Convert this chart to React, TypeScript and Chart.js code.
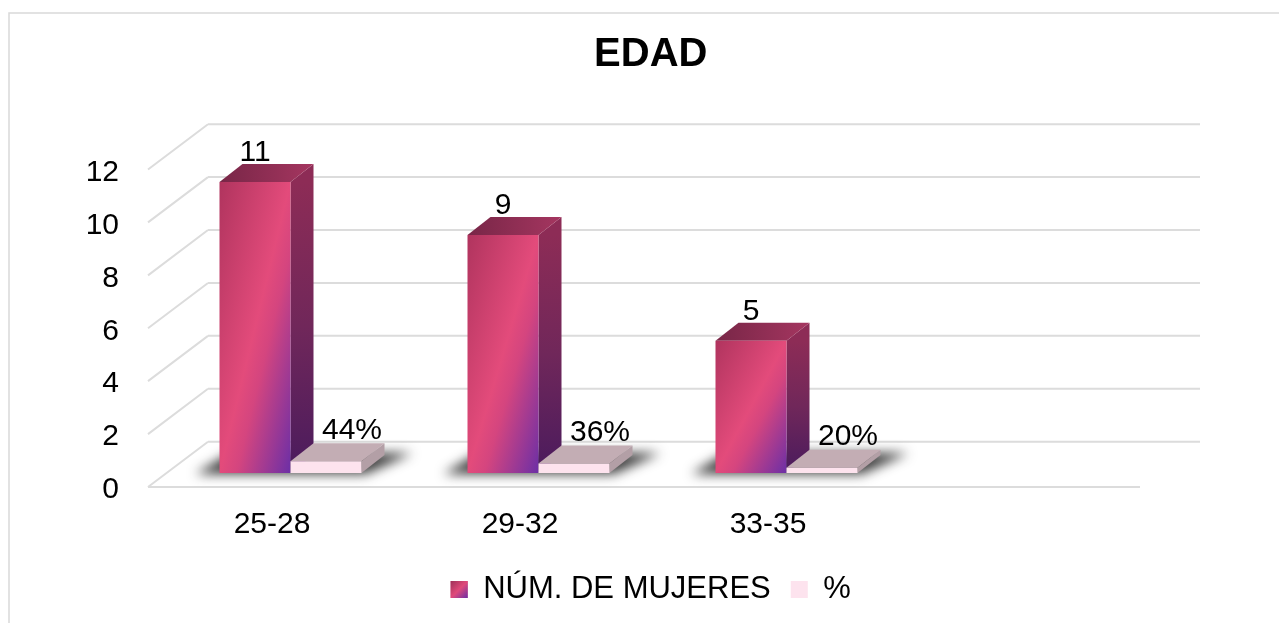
import React, { useEffect, useRef } from 'react';
import { Chart, registerables } from 'chart.js';

Chart.register(...registerables);

// ---- data ----
const categories = ['25-28', '29-32', '33-35', ''];
const mujeres: (number | null)[] = [11, 9, 5, null];
const porcentaje: (number | null)[] = [0.44, 0.36, 0.2, null];
const seriesNames = ['NÚM. DE MUJERES', '%'];
const titleText = 'EDAD';
const yMin = 0;
const yMax = 12;
const yStep = 2;

const FONT = "'Liberation Sans', Arial, Helvetica, sans-serif";

// ---- 3D geometry (offsets relative to bar plane) ----
const FRONT_DX = -18.5;
const FRONT_DY = 14;
const BACK_DX = 41.5;
const BACK_DY = -31.3;
const BAR_DX = 23;
const BAR_DY = -18;
const GRID = '#dcdcdc';

function poly(ctx: CanvasRenderingContext2D, pts: number[][], fill: string | CanvasGradient) {
  ctx.beginPath();
  ctx.moveTo(pts[0][0], pts[0][1]);
  for (let i = 1; i < pts.length; i++) ctx.lineTo(pts[i][0], pts[i][1]);
  ctx.closePath();
  ctx.fillStyle = fill;
  ctx.fill();
}

function drawBar(ctx: CanvasRenderingContext2D, el: any, kind: number) {
  const w = el.width;
  const L = el.x - w / 2;
  const R = el.x + w / 2;
  const top = el.y;
  const base = el.base;
  const h = base - top;
  let front: string | CanvasGradient;
  let side: string | CanvasGradient;
  let topF: string | CanvasGradient;
  if (kind === 0) {
    const s = (2 * w * h) / (h * h + w * w);
    const g = ctx.createLinearGradient(L, top, L + h * s, top + w * s);
    g.addColorStop(0, '#b0345e');
    g.addColorStop(0.5, '#e34b7b');
    g.addColorStop(0.62, '#d4457f');
    g.addColorStop(1, '#6c2fa6');
    front = g;
    const gs = ctx.createLinearGradient(0, top, 0, base);
    gs.addColorStop(0, '#8d2c56');
    gs.addColorStop(0.5, '#70275a');
    gs.addColorStop(1, '#4a1b5d');
    side = gs;
    const gt = ctx.createLinearGradient(L, 0, R + BAR_DX, 0);
    gt.addColorStop(0, '#782647');
    gt.addColorStop(1, '#a53660');
    topF = gt;
  } else {
    front = '#fde3ee';
    side = '#b39fa6';
    topF = '#c3adb4';
  }
  poly(ctx, [[R, top], [R + BAR_DX, top + BAR_DY], [R + BAR_DX, base + BAR_DY], [R, base]], side);
  poly(ctx, [[L, top], [R, top], [R + BAR_DX, top + BAR_DY], [L + BAR_DX, top + BAR_DY]], topF);
  poly(ctx, [[L, top], [R, top], [R, base], [L, base]], front);
}

const threeD = {
  id: 'threeD',
  beforeDraw(chart: any) {
    const ctx = chart.ctx as CanvasRenderingContext2D;
    ctx.save();
    ctx.strokeStyle = '#d9d9d9';
    ctx.lineWidth = 1.5;
    ctx.strokeRect(9, 13, 1400, 800);
    ctx.restore();
  },
  beforeDatasetsDraw(chart: any) {
    const ctx = chart.ctx as CanvasRenderingContext2D;
    const { left, right } = chart.chartArea;
    const y = chart.scales.y;
    ctx.save();
    ctx.strokeStyle = GRID;
    ctx.lineWidth = 2;
    y.ticks.forEach((t: any) => {
      const py = y.getPixelForValue(t.value);
      ctx.beginPath();
      ctx.moveTo(left + BACK_DX, py + BACK_DY);
      ctx.lineTo(right + BACK_DX, py + BACK_DY);
      ctx.moveTo(left + FRONT_DX, py + FRONT_DY);
      ctx.lineTo(left + BACK_DX, py + BACK_DY);
      ctx.stroke();
    });
    const p0 = y.getPixelForValue(0);
    ctx.beginPath();
    ctx.moveTo(left + FRONT_DX, p0 + FRONT_DY);
    ctx.lineTo(right + FRONT_DX, p0 + FRONT_DY);
    ctx.stroke();

    const m0 = chart.getDatasetMeta(0).data;
    const m1 = chart.getDatasetMeta(1).data;
    // shadows
    categories.forEach((_, i) => {
      if (mujeres[i] == null) return;
      const a = m0[i];
      const b = m1[i];
      const L = a.x - a.width / 2;
      const R = b.x + b.width / 2;
      const base = a.base;
      ctx.save();
      ctx.filter = 'blur(6px)';
      poly(ctx, [
        [L - 24, base + 1],
        [R + 4, base + 1],
        [R + BAR_DX + 28, base + BAR_DY - 2],
        [L + BAR_DX - 12, base + BAR_DY - 2],
      ], 'rgba(25,25,25,0.85)');
      ctx.restore();
    });
    categories.forEach((_, i) => {
      if (mujeres[i] == null) return;
      drawBar(ctx, m0[i], 0);
      drawBar(ctx, m1[i], 1);
    });
    ctx.restore();
    return false;
  },
  afterDraw(chart: any) {
    const ctx = chart.ctx as CanvasRenderingContext2D;
    const m0 = chart.getDatasetMeta(0).data;
    const m1 = chart.getDatasetMeta(1).data;
    ctx.save();
    ctx.font = `30px ${FONT}`;
    ctx.fillStyle = '#000';
    ctx.textAlign = 'center';
    ctx.textBaseline = 'middle';
    categories.forEach((_, i) => {
      if (mujeres[i] != null) ctx.fillText(String(mujeres[i]), m0[i].x, m0[i].y - 29);
      if (porcentaje[i] != null)
        ctx.fillText(`${Math.round((porcentaje[i] as number) * 100)}%`, m1[i].x + 26, m1[i].y - 31);
    });
    // gradient legend box
    const hb = chart.legend?.legendHitBoxes?.[0];
    if (hb) {
      const bx = hb.left;
      const by = hb.top + (hb.height - 17) / 2;
      const g = ctx.createLinearGradient(bx, by, bx + 17, by + 17);
      g.addColorStop(0, '#9e3058');
      g.addColorStop(0.5, '#e04a7a');
      g.addColorStop(1, '#6c2fa6');
      ctx.fillStyle = g;
      ctx.fillRect(bx, by, 17, 17);
    }
    ctx.restore();
  },
};

export default function App() {
  const ref = useRef<HTMLCanvasElement | null>(null);
  useEffect(() => {
    if (!ref.current) return;
    Chart.defaults.font.family = FONT;
    const chart = new Chart(ref.current, {
      type: 'bar',
      data: {
        labels: categories,
        datasets: [
          {
            label: seriesNames[0],
            data: mujeres,
            backgroundColor: '#cf4379',
            borderWidth: 0,
            categoryPercentage: 0.5726,
            barPercentage: 1,
          },
          {
            label: seriesNames[1],
            data: porcentaje,
            backgroundColor: '#fde3ee',
            borderWidth: 0,
            categoryPercentage: 0.5726,
            barPercentage: 1,
          },
        ],
      },
      options: {
        responsive: false,
        animation: false,
        devicePixelRatio: 1,
        layout: { padding: { left: 56.5, right: 34, top: 0, bottom: 8 } },
        scales: {
          x: {
            type: 'category',
            offset: true,
            grid: { display: false, drawTicks: false },
            border: { display: false },
            ticks: {
              color: '#000',
              font: { size: 30 },
              padding: 34,
              labelOffset: -18.5,
              maxRotation: 0,
              autoSkip: false,
            },
            afterFit: (s: any) => {
              s.height = 81;
            },
          },
          y: {
            min: yMin,
            max: yMax,
            grid: { display: false, drawTicks: false },
            border: { display: false },
            ticks: {
              stepSize: yStep,
              color: '#000',
              font: { size: 30 },
              padding: 47.5,
              labelOffset: 17,
            },
            afterFit: (s: any) => {
              s.width = 110;
            },
          },
          yRight: {
            position: 'right',
            display: true,
            min: yMin,
            max: yMax,
            grid: { display: false, drawTicks: false },
            border: { display: false },
            ticks: { display: false },
            afterFit: (s: any) => {
              s.width = 86.5;
            },
          },
        },
        plugins: {
          tooltip: { enabled: false },
          title: {
            display: true,
            text: titleText,
            color: '#000',
            font: { size: 40, weight: 'bold' },
            padding: { top: 31, bottom: 76.5 },
          },
          legend: {
            position: 'bottom',
            labels: {
              color: '#000',
              font: { size: 31 },
              boxWidth: 17,
              boxHeight: 17,
              padding: 20,
            },
          },
        },
      },
      plugins: [threeD],
    } as any);
    return () => chart.destroy();
  }, []);
  return (
    <canvas
      ref={ref}
      width={1279}
      height={623}
      style={{ position: 'fixed', left: 0, top: 0, width: 1279, height: 623, background: '#fff' }}
    />
  );
}
